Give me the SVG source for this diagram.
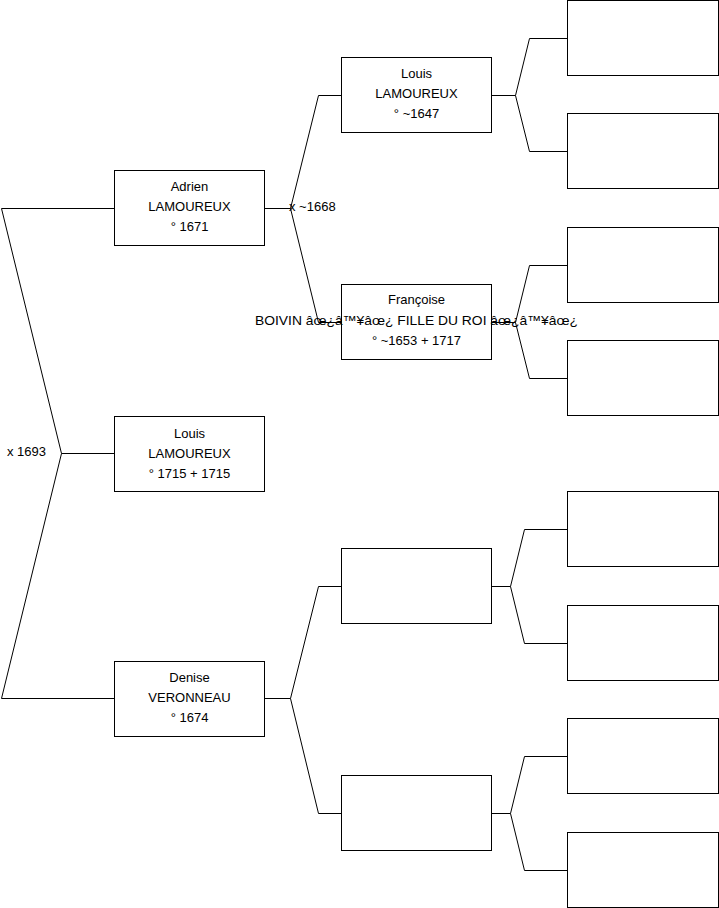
<svg xmlns="http://www.w3.org/2000/svg" width="719" height="908" viewBox="0 0 719 908">
<style>
.box{fill:#fff;stroke:#000;stroke-width:1}
.t{font-family:"Liberation Sans",Arial,sans-serif;font-size:13px;fill:#000;text-anchor:middle}
.l{font-family:"Liberation Sans",Arial,sans-serif;font-size:13px;fill:#000}
.c{fill:none;stroke:#000;stroke-width:1}
</style>
<rect width="719" height="908" fill="#fff"/>
<g id="connectors">
<polyline class="c" points="114,208.5 1.5,208.5 61.5,453.5 1.5,698.5 114,698.5"/>
<line class="c" x1="61.5" y1="453.5" x2="114" y2="453.5"/>
<polyline class="c" points="265,208.5 290.5,208.5"/>
<polyline class="c" points="341,95.5 318.5,95.5 290.5,208.5 318.5,322.5 341,322.5"/>
<polyline class="c" points="265,698.5 290.5,698.5"/>
<polyline class="c" points="341,586.5 318.5,586.5 290.5,698.5 318.5,813.5 341,813.5"/>
<polyline class="c" points="491,95.5 515.5,95.5"/>
<polyline class="c" points="567,38.5 529.5,38.5 515.5,95.5 529.5,151.5 567,151.5"/>
<polyline class="c" points="491,322.5 515.5,322.5"/>
<polyline class="c" points="567,265.5 529.5,265.5 515.5,322.5 529.5,378.5 567,378.5"/>
<polyline class="c" points="491,586.5 510.5,586.5"/>
<polyline class="c" points="567,529.5 524.5,529.5 510.5,586.5 524.5,643.5 567,643.5"/>
<polyline class="c" points="491,813.5 510.5,813.5"/>
<polyline class="c" points="567,756.5 524.5,756.5 510.5,813.5 524.5,870.5 567,870.5"/>
<text class="l" x="7" y="456">x 1693</text>
<text class="l" x="289" y="211">x ~1668</text>
</g>
<g id="adrien">
<rect class="box" x="114.5" y="170.5" width="150" height="75"/>
<text class="t" x="189.5" y="191">Adrien</text>
<text class="t" x="189.5" y="211">LAMOUREUX</text>
<text class="t" x="189.5" y="231">° 1671</text>
</g>
<g id="louis1715">
<rect class="box" x="114.5" y="416.5" width="150" height="75"/>
<text class="t" x="189.5" y="438">Louis</text>
<text class="t" x="189.5" y="458">LAMOUREUX</text>
<text class="t" x="189.5" y="478">° 1715 + 1715</text>
</g>
<g id="denise">
<rect class="box" x="114.5" y="661.5" width="150" height="75"/>
<text class="t" x="189.5" y="682">Denise</text>
<text class="t" x="189.5" y="702">VERONNEAU</text>
<text class="t" x="189.5" y="722">° 1674</text>
</g>
<g id="louis1647">
<rect class="box" x="341.5" y="57.5" width="150" height="75"/>
<text class="t" x="416.5" y="78">Louis</text>
<text class="t" x="416.5" y="98">LAMOUREUX</text>
<text class="t" x="416.5" y="118">° ~1647</text>
</g>
<g id="francoise">
<rect class="box" x="341.5" y="284.5" width="150" height="75"/>
<text class="t" x="416.5" y="304">Françoise</text>
<text class="t" x="416.5" y="325" textLength="323" lengthAdjust="spacingAndGlyphs">BOIVIN âœ¿â™¥âœ¿ FILLE DU ROI âœ¿â™¥âœ¿</text>
<text class="t" x="416.5" y="345">° ~1653 + 1717</text>
</g>
<g id="p2c"><rect class="box" x="341.5" y="548.5" width="150" height="75"/></g>
<g id="p2d"><rect class="box" x="341.5" y="775.5" width="150" height="75"/></g>
<g id="p3a"><rect class="box" x="567.5" y="0.5" width="151" height="75"/></g>
<g id="p3b"><rect class="box" x="567.5" y="113.5" width="151" height="75"/></g>
<g id="p3c"><rect class="box" x="567.5" y="227.5" width="151" height="75"/></g>
<g id="p3d"><rect class="box" x="567.5" y="340.5" width="151" height="75"/></g>
<g id="p3e"><rect class="box" x="567.5" y="491.5" width="151" height="75"/></g>
<g id="p3f"><rect class="box" x="567.5" y="605.5" width="151" height="75"/></g>
<g id="p3g"><rect class="box" x="567.5" y="718.5" width="151" height="75"/></g>
<g id="p3h"><rect class="box" x="567.5" y="832.5" width="151" height="75"/></g>
</svg>
